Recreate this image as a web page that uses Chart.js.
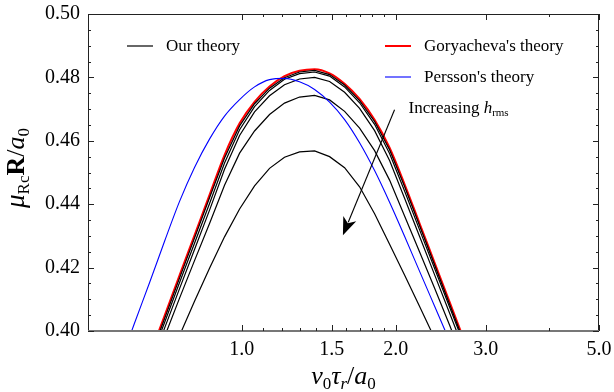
<!DOCTYPE html>
<html>
<head>
<meta charset="utf-8">
<script src="https://cdn.jsdelivr.net/npm/chart.js@4/dist/chart.umd.min.js"></script>
<style>
  html, body { margin: 0; padding: 0; background: #fff; }
  #wrap { width: 614px; height: 392px; }
</style>
</head>
<body>
<div id="wrap"><canvas id="c" width="614" height="392"></canvas></div>
<script>
// Sliding speed v0*tau_r/a0 (log axis) at which the curves are sampled
const speed = [0.660, 0.706, 0.755, 0.808, 0.865, 0.925, 0.990, 1.059, 1.133, 1.212, 1.297,
               1.388, 1.485, 1.589, 1.700, 1.819, 1.946, 2.083, 2.228, 2.384, 2.551, 2.729];

// Goryacheva's theory
const goryacheva = [0.3921, 0.4048, 0.4175, 0.4302, 0.4430, 0.4555, 0.4655, 0.4723, 0.4771, 0.4804, 0.4821,
                    0.4826, 0.4813, 0.4780, 0.4732, 0.4666, 0.4578, 0.4462, 0.4339, 0.4215, 0.4091, 0.3967];

// Our theory, one curve per roughness level (h_rms increasing)
const ourH1 = [0.3912, 0.4039, 0.4166, 0.4293, 0.4421, 0.4546, 0.4647, 0.4717, 0.4766, 0.4799, 0.4817,
               0.4822, 0.4809, 0.4776, 0.4727, 0.4661, 0.4572, 0.4455, 0.4332, 0.4208, 0.4084, 0.3960];
const ourH2 = [0.3902, 0.4027, 0.4152, 0.4277, 0.4403, 0.4530, 0.4635, 0.4708, 0.4759, 0.4794, 0.4812,
               0.4817, 0.4804, 0.4770, 0.4720, 0.4652, 0.4560, 0.4441, 0.4319, 0.4197, 0.4075, 0.3953];
const ourH3 = [0.3885, 0.4009, 0.4133, 0.4257, 0.4382, 0.4510, 0.4617, 0.4691, 0.4742, 0.4777, 0.4795,
               0.4800, 0.4787, 0.4753, 0.4702, 0.4632, 0.4538, 0.4418, 0.4298, 0.4177, 0.4056, 0.3934];
const ourH4 = [0.3860, 0.3982, 0.4103, 0.4222, 0.4340, 0.4460, 0.4561, 0.4631, 0.4683, 0.4719, 0.4738,
               0.4743, 0.4729, 0.4693, 0.4640, 0.4569, 0.4476, 0.4362, 0.4249, 0.4135, 0.4018, 0.3898];
const ourH5 = [0.3750, 0.3870, 0.3985, 0.4094, 0.4199, 0.4297, 0.4385, 0.4458, 0.4513, 0.4548, 0.4565,
               0.4568, 0.4550, 0.4515, 0.4455, 0.4370, 0.4274, 0.4176, 0.4077, 0.3977, 0.3877, 0.3777];

// Persson's theory
const perssonSpeed = [0.576, 0.616, 0.660, 0.706, 0.755, 0.808, 0.865, 0.925, 0.990, 1.059, 1.133, 1.212,
                      1.297, 1.388, 1.485, 1.589, 1.700, 1.819, 1.946, 2.083, 2.228, 2.384, 2.551];
const persson = [0.3893, 0.4023, 0.4153, 0.4283, 0.4408, 0.4516, 0.4606, 0.4678, 0.4730, 0.4770, 0.4793, 0.4797,
                 0.4786, 0.4762, 0.4722, 0.4667, 0.4594, 0.4506, 0.4406, 0.4298, 0.4188, 0.4078, 0.3968];

// Axis ticks
const xMajor = [1.0, 1.5, 2.0, 3.0, 5.0];
const xMinor = [1.1, 1.2, 1.3, 1.4, 1.6, 1.7, 1.8, 1.9, 4.0];
const yMajor = [0.40, 0.42, 0.44, 0.46, 0.48, 0.50];
const yMinor = [0.405, 0.41, 0.415, 0.425, 0.43, 0.435, 0.445, 0.45, 0.455,
                0.465, 0.47, 0.475, 0.485, 0.49, 0.495];

// Annotation arrow (data coordinates): from label towards increasing roughness
const arrowFrom = [1.99, 0.4698];
const arrowTo = [1.577, 0.4302];
const arrowLabelAt = [2.12, 0.4703];

const SERIF = "'Liberation Serif', 'Times New Roman', serif";
Chart.defaults.font.family = SERIF;
const zip = (xs, ys) => xs.map((v, i) => ({ x: v, y: ys[i] }));

const ourStyle = { borderColor: '#000', borderWidth: 1.2, tension: 0, order: 1 };

const datasets = [
  Object.assign({ label: 'Our theory', data: zip(speed, ourH1) }, ourStyle),
  Object.assign({ label: 'Our theory h2', data: zip(speed, ourH2) }, ourStyle),
  Object.assign({ label: 'Our theory h3', data: zip(speed, ourH3) }, ourStyle),
  Object.assign({ label: 'Our theory h4', data: zip(speed, ourH4) }, ourStyle),
  Object.assign({ label: 'Our theory h5', data: zip(speed, ourH5) }, ourStyle),
  { label: "Goryacheva's theory", data: zip(speed, goryacheva), borderColor: '#ff0000', borderWidth: 2,
    cubicInterpolationMode: 'monotone', order: 2 },
  { label: "Persson's theory", data: zip(perssonSpeed, persson), borderColor: '#0000ff', borderWidth: 1.1,
    cubicInterpolationMode: 'monotone', order: 0 }
];
datasets.forEach(d => { d.pointRadius = 0; d.showLine = true; d.fill = false; });

function drawRich(ctx, parts, x, y) {
  let total = 0;
  parts.forEach(p => { ctx.font = p.font; p.w = ctx.measureText(p.t).width; total += p.w; });
  let cx = x - total / 2;
  parts.forEach(p => {
    ctx.font = p.font;
    ctx.fillText(p.t, cx, y + (p.dy || 0));
    cx += p.w;
  });
}

const framePlugin = {
  id: 'frame',
  afterDraw(chart) {
    const { ctx, chartArea: a, scales } = chart;
    const xs = scales.x, ys = scales.y;
    ctx.save();
    // plot border
    ctx.strokeStyle = '#222';
    ctx.lineWidth = 1;
    ctx.beginPath();
    ctx.moveTo(a.left + 0.5, a.bottom);
    ctx.lineTo(a.left + 0.5, a.top + 0.5);
    ctx.lineTo(a.right - 0.5, a.top + 0.5);
    ctx.lineTo(a.right - 0.5, a.bottom);
    ctx.stroke();
    ctx.strokeStyle = '#777';
    ctx.lineWidth = 2;
    ctx.beginPath();
    ctx.moveTo(a.left, a.bottom);
    ctx.lineTo(a.right, a.bottom);
    ctx.stroke();

    // inward tick marks on all four sides
    ctx.strokeStyle = '#222';
    ctx.lineWidth = 1;
    const xTick = (v, len) => {
      const p = Math.round(xs.getPixelForValue(v)) + 0.5;
      ctx.beginPath();
      ctx.moveTo(p, a.bottom); ctx.lineTo(p, a.bottom - len);
      ctx.moveTo(p, a.top); ctx.lineTo(p, a.top + len);
      ctx.stroke();
    };
    const yTick = (v, len) => {
      const p = Math.round(ys.getPixelForValue(v)) + 0.5;
      ctx.beginPath();
      ctx.moveTo(a.left, p); ctx.lineTo(a.left + len, p);
      ctx.moveTo(a.right, p); ctx.lineTo(a.right - len, p);
      ctx.stroke();
    };
    xMajor.forEach(v => xTick(v, 6));
    xMinor.forEach(v => xTick(v, 3));
    yMajor.forEach(v => yTick(v, 6));
    yMinor.forEach(v => yTick(v, 3));

    // legend
    ctx.fillStyle = '#000';
    ctx.textBaseline = 'middle';
    ctx.textAlign = 'left';
    ctx.font = '17px ' + SERIF;
    const legend = [
      { ds: 0, x: a.left + 39, y: a.top + 32 },
      { ds: 5, x: a.left + 297, y: a.top + 32 },
      { ds: 6, x: a.left + 297, y: a.top + 63 }
    ];
    legend.forEach(l => {
      const d = chart.data.datasets[l.ds];
      ctx.strokeStyle = d.borderColor;
      ctx.lineWidth = d.borderWidth;
      ctx.beginPath();
      ctx.moveTo(l.x, l.y); ctx.lineTo(l.x + 26, l.y);
      ctx.stroke();
      ctx.fillText(d.label, l.x + 39, l.y + 1);
    });

    // arrow annotation
    const fx = xs.getPixelForValue(arrowFrom[0]), fy = ys.getPixelForValue(arrowFrom[1]);
    const tx = xs.getPixelForValue(arrowTo[0]), ty = ys.getPixelForValue(arrowTo[1]);
    const ang = Math.atan2(ty - fy, tx - fx);
    const headLen = 18, headW = 7;
    ctx.strokeStyle = '#000';
    ctx.lineWidth = 1.1;
    ctx.beginPath();
    ctx.moveTo(fx, fy);
    ctx.lineTo(tx - Math.cos(ang) * (headLen - 4), ty - Math.sin(ang) * (headLen - 4));
    ctx.stroke();
    ctx.save();
    ctx.translate(tx, ty);
    ctx.rotate(ang);
    ctx.fillStyle = '#000';
    ctx.beginPath();
    ctx.moveTo(0, 0);
    ctx.lineTo(-headLen, -headW);
    ctx.lineTo(-headLen + 5, 0);
    ctx.lineTo(-headLen, headW);
    ctx.closePath();
    ctx.fill();
    ctx.restore();

    // arrow label with subscript
    const lx = xs.getPixelForValue(arrowLabelAt[0]), ly = ys.getPixelForValue(arrowLabelAt[1]);
    ctx.textBaseline = 'alphabetic';
    ctx.fillStyle = '#000';
    const lparts = [
      { t: 'Increasing ', font: '17px ' + SERIF },
      { t: 'h', font: 'italic 17px ' + SERIF },
      { t: 'rms', font: '11px ' + SERIF, dy: 3 }
    ];
    let total = 0;
    lparts.forEach(p => { ctx.font = p.font; p.w = ctx.measureText(p.t).width; total += p.w; });
    drawRich(ctx, lparts, lx + total / 2, ly + 5);

    // axis titles
    const xTitle = [
      { t: 'v', font: 'italic 26px ' + SERIF },
      { t: '0', font: '17px ' + SERIF, dy: 5 },
      { t: 'τ', font: 'italic 26px ' + SERIF },
      { t: 'r', font: 'italic 17px ' + SERIF, dy: 5 },
      { t: '/', font: '26px ' + SERIF },
      { t: 'a', font: 'italic 26px ' + SERIF },
      { t: '0', font: '17px ' + SERIF, dy: 5 }
    ];
    drawRich(ctx, xTitle, (a.left + a.right) / 2, 384);

    ctx.save();
    ctx.translate(24, 168);
    ctx.rotate(-Math.PI / 2);
    const yTitle = [
      { t: 'μ', font: 'italic 27px ' + SERIF },
      { t: 'Rc', font: '17px ' + SERIF, dy: 5 },
      { t: 'R', font: 'bold 26px ' + SERIF },
      { t: '/', font: '26px ' + SERIF },
      { t: 'a', font: 'italic 26px ' + SERIF },
      { t: '0', font: '17px ' + SERIF, dy: 5 }
    ];
    drawRich(ctx, yTitle, 0, 0);
    ctx.restore();

    ctx.restore();
  }
};

new Chart(document.getElementById('c'), {
  type: 'scatter',
  data: { datasets },
  options: {
    responsive: false,
    animation: false,
    devicePixelRatio: 1,
    layout: { padding: { left: 0, right: 15, top: 14, bottom: 0 } },
    plugins: { legend: { display: false }, tooltip: { enabled: false } },
    scales: {
      x: {
        type: 'logarithmic',
        min: 0.5,
        max: 5.0,
        afterBuildTicks: s => { s.ticks = xMajor.map(v => ({ value: v })); },
        afterFit: s => { s.height = 61; s.paddingLeft = 0; s.paddingRight = 0; },
        grid: { display: false, drawTicks: false },
        border: { display: false },
        ticks: {
          autoSkip: false, maxRotation: 0, padding: 7, color: '#000',
          font: { family: SERIF, size: 20 },
          callback: v => Number(v).toFixed(1)
        }
      },
      y: {
        type: 'linear',
        min: 0.40,
        max: 0.50,
        afterBuildTicks: s => { s.ticks = yMajor.map(v => ({ value: v })); },
        afterFit: s => { s.width = 88; s.paddingTop = 0; s.paddingBottom = 0; },
        grid: { display: false, drawTicks: false },
        border: { display: false },
        ticks: {
          padding: 8, color: '#000',
          font: { family: SERIF, size: 20 },
          callback: v => Number(v).toFixed(2)
        }
      }
    }
  },
  plugins: [framePlugin]
});
</script>
</body>
</html>
